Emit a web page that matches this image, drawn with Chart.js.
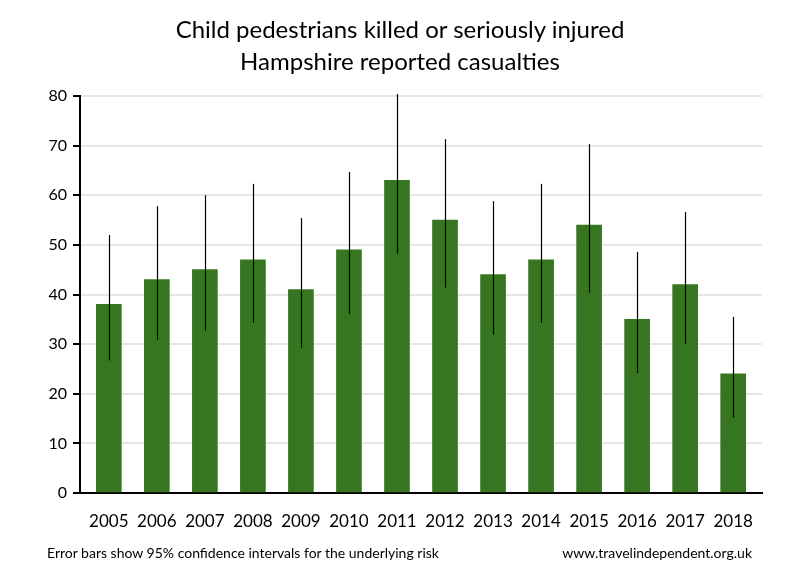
<!DOCTYPE html>
<html>
<head>
<meta charset="utf-8">
<script src="https://cdn.jsdelivr.net/npm/chart.js@4"></script>
<style>
  body { margin: 0; background: #fff; }
  #wrap { position: relative; width: 800px; height: 580px; }
  #title { position: absolute; left: 0; top: 13px; width: 800px; text-align: center; font: 24px/32px Lato, sans-serif; color: #000; }
  .note { position: absolute; top: 544px; font: 14px Lato, sans-serif; color: #000; white-space: nowrap; }
</style>
</head>
<body>
<div id="wrap">
  <canvas id="chart" width="800" height="580"></canvas>
  <div id="title">Child pedestrians killed or seriously injured<br>Hampshire reported casualties</div>
  <div class="note" style="left:47px">Error bars show 95% confidence intervals for the underlying risk</div>
  <div class="note" style="right:48px">www.travelindependent.org.uk</div>
</div>
<script>
var years = ['2005', '2006', '2007', '2008', '2009', '2010', '2011', '2012', '2013', '2014', '2015', '2016', '2017', '2018'];
var casualties = [38, 43, 45, 47, 41, 49, 63, 55, 44, 47, 54, 35, 42, 24];
var upperCI = [52.0, 57.8, 60.0, 62.3, 55.4, 64.7, 80.4, 71.3, 58.8, 62.3, 70.3, 48.6, 56.6, 35.5];
var lowerCI = [26.7, 30.9, 32.7, 34.3, 29.3, 36.1, 48.2, 41.4, 31.9, 34.3, 40.4, 24.2, 30.1, 15.2];
var yTicks = [0, 10, 20, 30, 40, 50, 60, 70, 80];

// thin black lines for the confidence intervals, drawn on top of the bars
var errorBars = {
    id: 'errorBars',
    afterDatasetsDraw: function(chart) {
        var ctx = chart.ctx;
        var xs = chart.scales.x, ys = chart.scales.y;
        ctx.save();
        ctx.strokeStyle = '#000';
        ctx.lineWidth = 1.2;
        years.forEach(function(y, i) {
            var px = Math.round(xs.getPixelForValue(i)) + 0.5;
            ctx.beginPath();
            ctx.moveTo(px, ys.getPixelForValue(upperCI[i]));
            ctx.lineTo(px, ys.getPixelForValue(lowerCI[i]));
            ctx.stroke();
        });
        ctx.restore();
    }
};

new Chart(document.getElementById('chart').getContext('2d'), {
    type: 'bar',
    data: {
        datasets: [{
            data: casualties.map(function(v, i) { return { x: i, y: v }; }),
            backgroundColor: '#377621',
            barThickness: 25
        }]
    },
    options: {
        responsive: false,
        animation: false,
        layout: { padding: { left: 0, right: 38, top: 96, bottom: 0 } },
        plugins: {
            legend: { display: false },
            tooltip: { enabled: false },
            title: { display: false }
        },
        scales: {
            x: {
                type: 'linear',
                offset: false,
                min: -0.6,
                max: 13.6,
                afterBuildTicks: function(scale) {
                    scale.ticks = years.map(function(y, i) { return { value: i }; });
                },
                afterFit: function(scale) { scale.height = 87; },
                grid: { display: false },
                border: { color: '#000', width: 2 },
                ticks: {
                    color: '#000',
                    padding: 10,
                    maxRotation: 0,
                    autoSkip: false,
                    font: { family: 'Lato', size: 17 },
                    callback: function(v) { return years[v]; }
                }
            },
            y: {
                min: 0,
                max: 80,
                afterBuildTicks: function(scale) {
                    scale.ticks = yTicks.map(function(v) { return { value: v }; });
                },
                afterFit: function(scale) { scale.width = 80; },
                grid: { color: '#e6e6e6', lineWidth: 2, tickColor: '#000', tickLength: 7, tickWidth: 2 },
                border: { color: '#000', width: 2 },
                ticks: {
                    color: '#000',
                    padding: 6,
                    font: { family: 'Lato', size: 16 }
                }
            }
        }
    },
    plugins: [errorBars]
});
</script>
</body>
</html>
